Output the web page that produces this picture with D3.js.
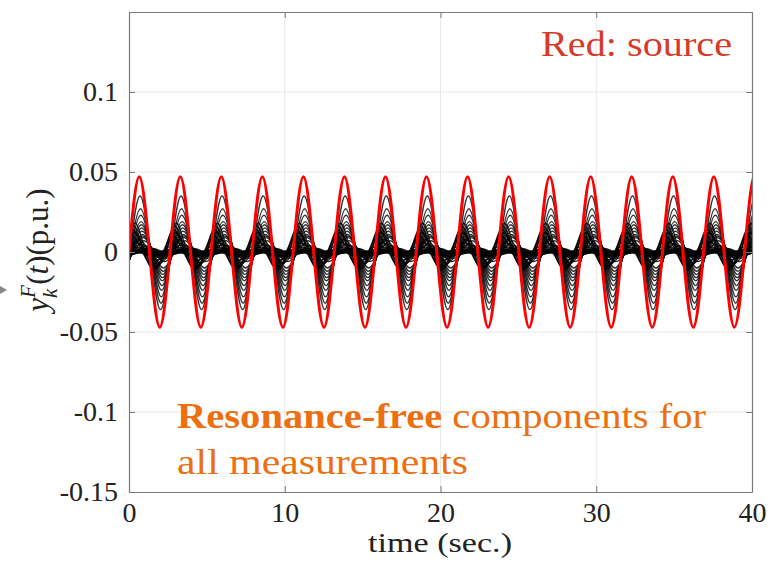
<!DOCTYPE html>
<html>
<head>
<meta charset="utf-8">
<script src="https://cdn.jsdelivr.net/npm/d3@7"></script>
<style>
  body { margin: 0; background: #fff; }
  svg { display: block; }
</style>
</head>
<body>
<div id="chart"></div>
<script>
// Values
const period = 2.635;          // seconds per cycle (peak spacing)
const sourceAmp = 0.047;       // red source amplitude (p.u.)

// black traces: positive peak, negative trough, lag (s) against the source
const tracePeak   = [0.035, 0.027, 0.023, 0.019, 0.017, 0.015, 0.013, 0.011, 0.010, 0.009,
                     0.018, 0.016, 0.014, 0.012, 0.010,
                     0.008, 0.007, 0.006, 0.005, 0.004, 0.004, 0.003, 0.003, 0.002, 0.002,
                     0.0015, 0.001, 0.001, 0.0025, 0.0015, 0.002, 0.001];
const traceTrough = [0.036, 0.032, 0.028, 0.024, 0.021, 0.018, 0.016, 0.014, 0.012, 0.010,
                     0.009, 0.011, 0.010, 0.009, 0.008,
                     0.007, 0.006, 0.005, 0.004, 0.004, 0.003, 0.003, 0.002, 0.003, 0.002,
                     0.0025, 0.002, 0.001, 0.0015, 0.002, 0.001, 0.0015];
const traceLag    = [0.05, 0.08, 0.10, 0.12, 0.14, 0.16, 0.18, 0.20, 0.22, 0.24,
                     -0.25, -0.35, -0.40, -0.30, -0.45,
                     0.00, 0.30, -0.20, 0.10, 0.40, -0.50, -0.10, 0.60, 0.20, 0.50,
                     -0.30, 0.00, 0.35, 0.70, -0.60, 0.90, -0.80];

const xTicks = [0, 10, 20, 30, 40];
const yTicks = [0.1, 0.05, 0, -0.05, -0.1, -0.15];
const yTickLabels = ["0.1", "0.05", "0", "-0.05", "-0.1", "-0.15"];

// key points of a periodic trace: zero, peak, zero, trough every quarter cycle
const cyclePoints = (peak, trough, lag, tEnd) => {
    const levels = [0, peak, 0, -trough];
    const pts = [];
    let k = lag > 0 ? -4 : 0;
    while (true) {
        const t = lag + k * period / 4;
        pts.push({ t: t, v: levels[((k % 4) + 4) % 4] });
        if (t > tEnd) break;
        k++;
    }
    return pts;
};

const width = 769;
const height = 572;
const margin = { top: 12, right: 17, bottom: 80, left: 129 };
const innerWidth = width - margin.left - margin.right;
const innerHeight = height - margin.top - margin.bottom;
const serif = "'Liberation Serif', 'DejaVu Serif', serif";

const xScale = d3.scaleLinear().domain([0, 40]).range([0, innerWidth]);
const yScale = d3.scaleLinear().domain([-0.15, 0.15]).range([innerHeight, 0]);

const svg = d3.select("#chart")
    .append("svg")
    .attr("width", width)
    .attr("height", height);

const innerChart = svg.append("g")
    .attr("transform", `translate(${margin.left},${margin.top})`);

// grid
innerChart.append("g")
    .selectAll("line")
    .data(xTicks.slice(1, -1))
    .join("line")
    .attr("x1", d => xScale(d)).attr("x2", d => xScale(d))
    .attr("y1", 0).attr("y2", innerHeight)
    .attr("stroke", "#e8e8e8");
innerChart.append("g")
    .selectAll("line")
    .data(yTicks.slice(0, -1))
    .join("line")
    .attr("x1", 0).attr("x2", innerWidth)
    .attr("y1", d => yScale(d)).attr("y2", d => yScale(d))
    .attr("stroke", "#e8e8e8");

// clip
svg.append("defs").append("clipPath").attr("id", "plotClip")
    .append("rect").attr("width", innerWidth).attr("height", innerHeight);

const line = d3.line()
    .x(d => xScale(d.t))
    .y(d => yScale(d.v))
    .curve(d3.curveNatural);

const plot = innerChart.append("g").attr("clip-path", "url(#plotClip)");

plot.selectAll(".trace")
    .data(tracePeak.map((p, i) => cyclePoints(p, traceTrough[i], traceLag[i], 41)))
    .join("path")
    .attr("class", "trace")
    .attr("d", line)
    .attr("fill", "none")
    .attr("stroke", "#000")
    .attr("stroke-opacity", 0.8)
    .attr("stroke-width", 1.4);

plot.append("path")
    .datum(cyclePoints(sourceAmp, sourceAmp, 0, 41))
    .attr("d", line)
    .attr("fill", "none")
    .attr("stroke", "#ff0000")
    .attr("stroke-width", 3);

// axes (MATLAB style box, ticks inside)
const axisColor = "#7a7a7a";
const styleAxis = g => {
    g.attr("font-family", serif).attr("font-size", 28);
    g.select(".domain").attr("stroke", axisColor).attr("stroke-width", 1.2);
    g.selectAll(".tick line").attr("stroke", axisColor);
    g.selectAll("text").attr("fill", "#222");
};

innerChart.append("g")
    .attr("transform", `translate(0,${innerHeight})`)
    .call(d3.axisBottom(xScale).tickValues(xTicks).tickFormat(d3.format("d"))
        .tickSizeInner(-6).tickSizeOuter(0).tickPadding(10))
    .call(styleAxis);

innerChart.append("g")
    .call(d3.axisLeft(yScale).tickValues(yTicks).tickFormat((d, i) => yTickLabels[i])
        .tickSizeInner(-6).tickSizeOuter(0).tickPadding(11))
    .call(styleAxis);

const topAxis = innerChart.append("g")
    .call(d3.axisTop(xScale).tickValues(xTicks).tickSizeInner(-6).tickSizeOuter(0))
    .call(styleAxis);
topAxis.selectAll("text").remove();

const rightAxis = innerChart.append("g")
    .attr("transform", `translate(${innerWidth},0)`)
    .call(d3.axisRight(yScale).tickValues(yTicks).tickSizeInner(-6).tickSizeOuter(0))
    .call(styleAxis);
rightAxis.selectAll("text").remove();

// axis labels
svg.append("text")
    .attr("x", 368)
    .attr("y", 552)
    .attr("font-family", serif)
    .attr("font-size", 28)
    .attr("textLength", 144)
    .attr("lengthAdjust", "spacingAndGlyphs")
    .attr("fill", "#222")
    .text("time (sec.)");

const yLabel = svg.append("text")
    .attr("transform", "translate(48,250) rotate(-90)")
    .attr("text-anchor", "middle")
    .attr("font-family", serif)
    .attr("font-size", 31)
    .attr("fill", "#222");
yLabel.append("tspan").attr("font-style", "italic").text("y");
yLabel.append("tspan").attr("font-style", "italic").attr("font-size", 21).attr("dy", -13).text("F");
yLabel.append("tspan").attr("font-style", "italic").attr("font-size", 21).attr("dx", -13).attr("dy", 22).text("k");
yLabel.append("tspan").attr("dx", 4).attr("dy", -9).text("(");
yLabel.append("tspan").attr("font-style", "italic").text("t");
yLabel.append("tspan").text(")(p.u.)");

svg.append("path")
    .attr("d", "M0,286 L7,290 L0,294 Z")
    .attr("fill", "#888");

// annotations
svg.append("text")
    .attr("x", 541)
    .attr("y", 56)
    .attr("font-family", serif)
    .attr("font-size", 36)
    .attr("textLength", 191)
    .attr("lengthAdjust", "spacingAndGlyphs")
    .attr("fill", "#d83a2a")
    .text("Red: source");

const note1 = svg.append("text")
    .attr("x", 177)
    .attr("y", 428)
    .attr("font-family", serif)
    .attr("font-size", 35)
    .attr("textLength", 529)
    .attr("lengthAdjust", "spacingAndGlyphs")
    .attr("fill", "#ec7011");
note1.append("tspan").attr("font-weight", "bold").text("Resonance-free");
note1.append("tspan").text(" components for");

svg.append("text")
    .attr("x", 177)
    .attr("y", 474)
    .attr("font-family", serif)
    .attr("font-size", 35)
    .attr("textLength", 291)
    .attr("lengthAdjust", "spacingAndGlyphs")
    .attr("fill", "#ec7011")
    .text("all measurements");
</script>
</body>
</html>
